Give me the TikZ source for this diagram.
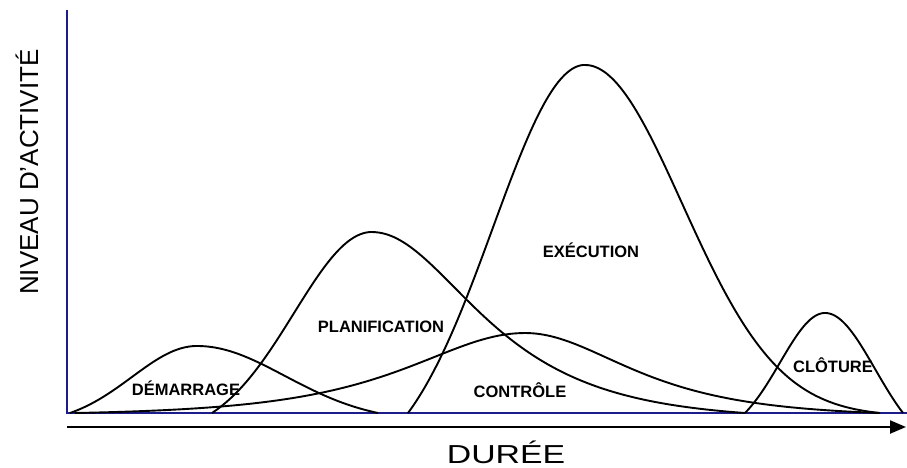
\documentclass[tikz,border=0pt]{standalone}
\usepackage{fontspec}
\usepackage{graphicx}
\setmainfont{Liberation Sans}
\usetikzlibrary{arrows.meta}
\definecolor{axisblue}{RGB}{28,28,140}

% normalised half-bells: #1 = offset from the peak, #2 = spread, #3 = offset of the end point
\pgfmathdeclarefunction{gbell}{3}{%
  \pgfmathparse{(exp(-0.5*(#1/#2)^2)-exp(-0.5*(#3/#2)^2))/(1-exp(-0.5*(#3/#2)^2))}%
}
\pgfmathdeclarefunction{sbell}{3}{%
  \pgfmathparse{(1/cosh(#1/#2)-1/cosh(#3/#2))/(1-1/cosh(#3/#2))}%
}

\begin{document}
\begin{tikzpicture}[x=1pt,y=-1pt,
  axisline/.style={axisblue, line width=1.8pt},
  timearrow/.style={black, line width=2.2pt, -{Triangle[length=16pt,width=13pt]}},
  curve/.style={black, line width=1.9pt, line join=round},
  phase/.style={font=\fontsize{16.5}{18}\selectfont\bfseries, anchor=base, inner sep=0pt},
  axistitle/.style={font=\fontsize{26}{30}\selectfont, anchor=base, inner sep=0pt}]
\useasboundingbox (0,0) rectangle (907,468);

% axes
\coordinate (ytop) at (67,10);
\coordinate (origin) at (67,413);
\coordinate (xend) at (907,413);
\draw[axisline] (ytop) -- (origin) -- (xend);

% time arrow
\coordinate (tstart) at (67,427);
\coordinate (tend) at (906,427);
\draw[timearrow] (tstart) -- (tend);

% phase curves
\draw[curve] plot[domain=70:197, samples=60] (\x, {413-67*gbell(\x-197,65,127)})
  -- plot[domain=197:378, samples=80] (\x, {413-67*gbell(\x-197,88,181)});
\draw[curve] plot[domain=212:372, samples=70] (\x, {413-181*gbell(\x-372,78,160)})
  -- plot[domain=372:745, samples=120] (\x, {413-181*sbell(\x-372,93,373)});
\draw[curve] plot[domain=75:525, samples=120] (\x, {413-80*sbell(\x-525,103,450)})
  -- plot[domain=525:880, samples=100] (\x, {413-80*sbell(\x-525,92,355)});
\draw[curve] plot[domain=408:585, samples=80] (\x, {413-348*gbell(\x-585,92,177)})
  -- plot[domain=585:880, samples=110] (\x, {413-348*gbell(\x-585,97,295)});
\draw[curve] plot[domain=745:825, samples=50] (\x, {413-100*gbell(\x-825,45,80)})
  -- plot[domain=825:903, samples=50] (\x, {413-100*gbell(\x-825,50,78)});

% phase labels
\node[phase] (demarrage) at (186,395) {DÉMARRAGE};
\node[phase] (planif) at (381,332) {PLANIFICATION};
\node[phase] (controle) at (520,397) {CONTRÔLE};
\node[phase] (execution) at (591,257) {EXÉCUTION};
\node[phase] (cloture) at (833,372) {CLÔTURE};

% axis titles
\node[axistitle, rotate=90] (ylabel) at (38,172) {NIVEAU D'ACTIVITÉ};
\node[axistitle] (xlabel) at (506,463) {\scalebox{1.3}[1]{DURÉE}};
\end{tikzpicture}
\end{document}
